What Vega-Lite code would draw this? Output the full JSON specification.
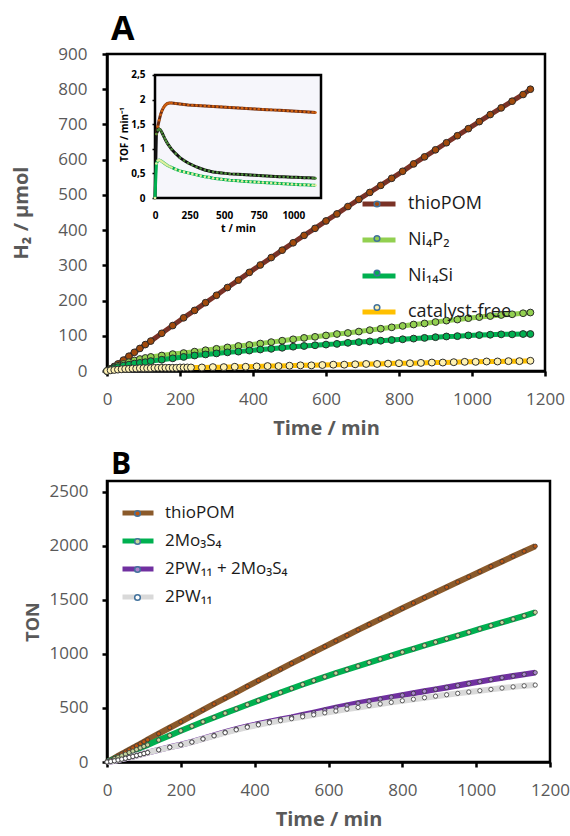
{
  "$schema": "https://vega.github.io/schema/vega-lite/v6.json",
  "background": "white",
  "padding": {"left": 10, "top": 11, "right": 0, "bottom": 0},
  "config": {
    "font": "Open Sans",
    "view": {"stroke": "black", "strokeWidth": 2.5},
    "axis": {"grid": false, "labelFlush": false, "labelOverlap": false, "domainColor": "black", "domainWidth": 2.5, "tickColor": "black", "tickWidth": 2.5, "tickSize": 5, "labelFont": "Open Sans", "labelFontSize": 17, "labelColor": "#595959", "labelPadding": 15, "titleFont": "Open Sans", "titleFontSize": 20, "titleFontWeight": "bold", "titleColor": "#595959"},
    "axisX": {"labelPadding": 15, "titlePadding": 11},
    "legend": {"labelFont": "Open Sans", "labelColor": "#1a1a1a", "padding": 0},
    "title": {"font": "Open Sans"}
  },
  "resolve": {"scale": {"color": "independent", "fill": "independent"}, "legend": {"color": "independent", "fill": "independent"}},
  "datasets": {
    "a": [
      {"s":"thioPOM","t":0,"v":0},{"s":"thioPOM","t":10,"v":6},{"s":"thioPOM","t":20,"v":13},{"s":"thioPOM","t":30,"v":20},{"s":"thioPOM","t":45,"v":31},{"s":"thioPOM","t":60,"v":42},{"s":"thioPOM","t":75,"v":53},{"s":"thioPOM","t":90,"v":64},{"s":"thioPOM","t":105,"v":75},{"s":"thioPOM","t":120,"v":85},{"s":"thioPOM","t":150,"v":107},{"s":"thioPOM","t":180,"v":129},{"s":"thioPOM","t":210,"v":151},{"s":"thioPOM","t":240,"v":172},{"s":"thioPOM","t":270,"v":194},{"s":"thioPOM","t":300,"v":215},{"s":"thioPOM","t":330,"v":237},{"s":"thioPOM","t":360,"v":258},{"s":"thioPOM","t":390,"v":280},{"s":"thioPOM","t":420,"v":301},{"s":"thioPOM","t":450,"v":322},{"s":"thioPOM","t":480,"v":343},{"s":"thioPOM","t":510,"v":364},{"s":"thioPOM","t":540,"v":385},{"s":"thioPOM","t":570,"v":405},{"s":"thioPOM","t":600,"v":426},{"s":"thioPOM","t":630,"v":446},{"s":"thioPOM","t":660,"v":467},{"s":"thioPOM","t":690,"v":487},{"s":"thioPOM","t":720,"v":507},{"s":"thioPOM","t":750,"v":527},{"s":"thioPOM","t":780,"v":547},{"s":"thioPOM","t":810,"v":567},{"s":"thioPOM","t":840,"v":588},{"s":"thioPOM","t":870,"v":608},{"s":"thioPOM","t":900,"v":628},{"s":"thioPOM","t":930,"v":648},{"s":"thioPOM","t":960,"v":668},{"s":"thioPOM","t":990,"v":688},{"s":"thioPOM","t":1020,"v":708},{"s":"thioPOM","t":1050,"v":728},{"s":"thioPOM","t":1080,"v":747},{"s":"thioPOM","t":1110,"v":766},{"s":"thioPOM","t":1140,"v":785},{"s":"thioPOM","t":1160,"v":800},
      {"s":"Ni₄P₂","t":0,"v":0},{"s":"Ni₄P₂","t":10,"v":6},{"s":"Ni₄P₂","t":20,"v":11},{"s":"Ni₄P₂","t":30,"v":15},{"s":"Ni₄P₂","t":45,"v":20},{"s":"Ni₄P₂","t":60,"v":25},{"s":"Ni₄P₂","t":75,"v":30},{"s":"Ni₄P₂","t":90,"v":34},{"s":"Ni₄P₂","t":105,"v":37},{"s":"Ni₄P₂","t":120,"v":40},{"s":"Ni₄P₂","t":150,"v":44},{"s":"Ni₄P₂","t":180,"v":48},{"s":"Ni₄P₂","t":210,"v":51},{"s":"Ni₄P₂","t":240,"v":55},{"s":"Ni₄P₂","t":270,"v":59},{"s":"Ni₄P₂","t":300,"v":63},{"s":"Ni₄P₂","t":330,"v":67},{"s":"Ni₄P₂","t":360,"v":71},{"s":"Ni₄P₂","t":390,"v":74},{"s":"Ni₄P₂","t":420,"v":78},{"s":"Ni₄P₂","t":450,"v":82},{"s":"Ni₄P₂","t":480,"v":86},{"s":"Ni₄P₂","t":510,"v":90},{"s":"Ni₄P₂","t":540,"v":94},{"s":"Ni₄P₂","t":570,"v":97},{"s":"Ni₄P₂","t":600,"v":101},{"s":"Ni₄P₂","t":630,"v":105},{"s":"Ni₄P₂","t":660,"v":108},{"s":"Ni₄P₂","t":690,"v":112},{"s":"Ni₄P₂","t":720,"v":116},{"s":"Ni₄P₂","t":750,"v":120},{"s":"Ni₄P₂","t":780,"v":124},{"s":"Ni₄P₂","t":810,"v":128},{"s":"Ni₄P₂","t":840,"v":132},{"s":"Ni₄P₂","t":870,"v":135},{"s":"Ni₄P₂","t":900,"v":139},{"s":"Ni₄P₂","t":930,"v":143},{"s":"Ni₄P₂","t":960,"v":146},{"s":"Ni₄P₂","t":990,"v":150},{"s":"Ni₄P₂","t":1020,"v":153},{"s":"Ni₄P₂","t":1050,"v":156},{"s":"Ni₄P₂","t":1080,"v":159},{"s":"Ni₄P₂","t":1110,"v":161},{"s":"Ni₄P₂","t":1140,"v":164},{"s":"Ni₄P₂","t":1160,"v":166},
      {"s":"Ni₁₄Si","t":0,"v":0},{"s":"Ni₁₄Si","t":10,"v":4},{"s":"Ni₁₄Si","t":20,"v":8},{"s":"Ni₁₄Si","t":30,"v":11},{"s":"Ni₁₄Si","t":45,"v":15},{"s":"Ni₁₄Si","t":60,"v":18},{"s":"Ni₁₄Si","t":75,"v":21},{"s":"Ni₁₄Si","t":90,"v":23},{"s":"Ni₁₄Si","t":105,"v":25},{"s":"Ni₁₄Si","t":120,"v":28},{"s":"Ni₁₄Si","t":150,"v":32},{"s":"Ni₁₄Si","t":180,"v":36},{"s":"Ni₁₄Si","t":210,"v":40},{"s":"Ni₁₄Si","t":240,"v":44},{"s":"Ni₁₄Si","t":270,"v":47},{"s":"Ni₁₄Si","t":300,"v":50},{"s":"Ni₁₄Si","t":330,"v":53},{"s":"Ni₁₄Si","t":360,"v":55},{"s":"Ni₁₄Si","t":390,"v":58},{"s":"Ni₁₄Si","t":420,"v":61},{"s":"Ni₁₄Si","t":450,"v":63},{"s":"Ni₁₄Si","t":480,"v":66},{"s":"Ni₁₄Si","t":510,"v":69},{"s":"Ni₁₄Si","t":540,"v":71},{"s":"Ni₁₄Si","t":570,"v":73},{"s":"Ni₁₄Si","t":600,"v":75},{"s":"Ni₁₄Si","t":630,"v":77},{"s":"Ni₁₄Si","t":660,"v":80},{"s":"Ni₁₄Si","t":690,"v":82},{"s":"Ni₁₄Si","t":720,"v":84},{"s":"Ni₁₄Si","t":750,"v":86},{"s":"Ni₁₄Si","t":780,"v":88},{"s":"Ni₁₄Si","t":810,"v":90},{"s":"Ni₁₄Si","t":840,"v":92},{"s":"Ni₁₄Si","t":870,"v":94},{"s":"Ni₁₄Si","t":900,"v":96},{"s":"Ni₁₄Si","t":930,"v":98},{"s":"Ni₁₄Si","t":960,"v":99},{"s":"Ni₁₄Si","t":990,"v":101},{"s":"Ni₁₄Si","t":1020,"v":102},{"s":"Ni₁₄Si","t":1050,"v":103},{"s":"Ni₁₄Si","t":1080,"v":104},{"s":"Ni₁₄Si","t":1110,"v":104},{"s":"Ni₁₄Si","t":1140,"v":105},{"s":"Ni₁₄Si","t":1160,"v":105},
      {"s":"catalyst-free","t":0,"v":0},{"s":"catalyst-free","t":10,"v":2},{"s":"catalyst-free","t":20,"v":3},{"s":"catalyst-free","t":30,"v":4},{"s":"catalyst-free","t":40,"v":5},{"s":"catalyst-free","t":50,"v":6},{"s":"catalyst-free","t":60,"v":6},{"s":"catalyst-free","t":70,"v":7},{"s":"catalyst-free","t":80,"v":7},{"s":"catalyst-free","t":90,"v":8},{"s":"catalyst-free","t":100,"v":8},{"s":"catalyst-free","t":110,"v":8},{"s":"catalyst-free","t":120,"v":8},{"s":"catalyst-free","t":130,"v":9},{"s":"catalyst-free","t":140,"v":9},{"s":"catalyst-free","t":150,"v":9},{"s":"catalyst-free","t":160,"v":9},{"s":"catalyst-free","t":170,"v":9},{"s":"catalyst-free","t":180,"v":9},{"s":"catalyst-free","t":190,"v":9},{"s":"catalyst-free","t":200,"v":10},{"s":"catalyst-free","t":210,"v":10},{"s":"catalyst-free","t":220,"v":10},{"s":"catalyst-free","t":230,"v":10},{"s":"catalyst-free","t":260,"v":10},{"s":"catalyst-free","t":290,"v":11},{"s":"catalyst-free","t":320,"v":11},{"s":"catalyst-free","t":350,"v":12},{"s":"catalyst-free","t":380,"v":12},{"s":"catalyst-free","t":410,"v":13},{"s":"catalyst-free","t":440,"v":14},{"s":"catalyst-free","t":470,"v":14},{"s":"catalyst-free","t":500,"v":15},{"s":"catalyst-free","t":530,"v":16},{"s":"catalyst-free","t":560,"v":16},{"s":"catalyst-free","t":590,"v":17},{"s":"catalyst-free","t":620,"v":18},{"s":"catalyst-free","t":650,"v":18},{"s":"catalyst-free","t":680,"v":19},{"s":"catalyst-free","t":710,"v":20},{"s":"catalyst-free","t":740,"v":20},{"s":"catalyst-free","t":770,"v":21},{"s":"catalyst-free","t":800,"v":22},{"s":"catalyst-free","t":830,"v":22},{"s":"catalyst-free","t":860,"v":23},{"s":"catalyst-free","t":890,"v":24},{"s":"catalyst-free","t":920,"v":24},{"s":"catalyst-free","t":950,"v":25},{"s":"catalyst-free","t":980,"v":26},{"s":"catalyst-free","t":1010,"v":26},{"s":"catalyst-free","t":1040,"v":27},{"s":"catalyst-free","t":1070,"v":27},{"s":"catalyst-free","t":1100,"v":28},{"s":"catalyst-free","t":1130,"v":28},{"s":"catalyst-free","t":1160,"v":29}
    ],
    "ins": [
      {"s":"thioPOM","t":10,"v":1.3},{"s":"thioPOM","t":20,"v":1.45},{"s":"thioPOM","t":30,"v":1.58},{"s":"thioPOM","t":40,"v":1.69},{"s":"thioPOM","t":50,"v":1.77},{"s":"thioPOM","t":60,"v":1.83},{"s":"thioPOM","t":70,"v":1.87},{"s":"thioPOM","t":80,"v":1.9},{"s":"thioPOM","t":90,"v":1.92},{"s":"thioPOM","t":105,"v":1.93},{"s":"thioPOM","t":120,"v":1.93},{"s":"thioPOM","t":150,"v":1.92},{"s":"thioPOM","t":180,"v":1.91},{"s":"thioPOM","t":210,"v":1.9},{"s":"thioPOM","t":240,"v":1.89},{"s":"thioPOM","t":270,"v":1.885},{"s":"thioPOM","t":300,"v":1.88},{"s":"thioPOM","t":330,"v":1.875},{"s":"thioPOM","t":360,"v":1.87},{"s":"thioPOM","t":390,"v":1.865},{"s":"thioPOM","t":420,"v":1.86},{"s":"thioPOM","t":450,"v":1.855},{"s":"thioPOM","t":480,"v":1.85},{"s":"thioPOM","t":510,"v":1.845},{"s":"thioPOM","t":540,"v":1.84},{"s":"thioPOM","t":570,"v":1.835},{"s":"thioPOM","t":600,"v":1.83},{"s":"thioPOM","t":630,"v":1.825},{"s":"thioPOM","t":660,"v":1.82},{"s":"thioPOM","t":690,"v":1.815},{"s":"thioPOM","t":720,"v":1.81},{"s":"thioPOM","t":750,"v":1.805},{"s":"thioPOM","t":780,"v":1.8},{"s":"thioPOM","t":810,"v":1.795},{"s":"thioPOM","t":840,"v":1.79},{"s":"thioPOM","t":870,"v":1.785},{"s":"thioPOM","t":900,"v":1.78},{"s":"thioPOM","t":930,"v":1.775},{"s":"thioPOM","t":960,"v":1.77},{"s":"thioPOM","t":990,"v":1.765},{"s":"thioPOM","t":1020,"v":1.76},{"s":"thioPOM","t":1050,"v":1.755},{"s":"thioPOM","t":1080,"v":1.75},{"s":"thioPOM","t":1110,"v":1.745},{"s":"thioPOM","t":1140,"v":1.74},{"s":"thioPOM","t":1160,"v":1.735},
      {"s":"Ni₄P₂","t":0,"v":0},{"s":"Ni₄P₂","t":10,"v":1.3},{"s":"Ni₄P₂","t":20,"v":1.38},{"s":"Ni₄P₂","t":30,"v":1.4},{"s":"Ni₄P₂","t":40,"v":1.38},{"s":"Ni₄P₂","t":50,"v":1.33},{"s":"Ni₄P₂","t":60,"v":1.27},{"s":"Ni₄P₂","t":70,"v":1.21},{"s":"Ni₄P₂","t":80,"v":1.16},{"s":"Ni₄P₂","t":90,"v":1.11},{"s":"Ni₄P₂","t":105,"v":1.05},{"s":"Ni₄P₂","t":120,"v":0.99},{"s":"Ni₄P₂","t":150,"v":0.9},{"s":"Ni₄P₂","t":180,"v":0.82},{"s":"Ni₄P₂","t":210,"v":0.76},{"s":"Ni₄P₂","t":240,"v":0.71},{"s":"Ni₄P₂","t":270,"v":0.67},{"s":"Ni₄P₂","t":300,"v":0.63},{"s":"Ni₄P₂","t":330,"v":0.6},{"s":"Ni₄P₂","t":360,"v":0.57},{"s":"Ni₄P₂","t":390,"v":0.55},{"s":"Ni₄P₂","t":420,"v":0.53},{"s":"Ni₄P₂","t":450,"v":0.52},{"s":"Ni₄P₂","t":480,"v":0.51},{"s":"Ni₄P₂","t":510,"v":0.5},{"s":"Ni₄P₂","t":540,"v":0.49},{"s":"Ni₄P₂","t":570,"v":0.485},{"s":"Ni₄P₂","t":600,"v":0.48},{"s":"Ni₄P₂","t":630,"v":0.475},{"s":"Ni₄P₂","t":660,"v":0.47},{"s":"Ni₄P₂","t":690,"v":0.465},{"s":"Ni₄P₂","t":720,"v":0.46},{"s":"Ni₄P₂","t":750,"v":0.455},{"s":"Ni₄P₂","t":780,"v":0.45},{"s":"Ni₄P₂","t":810,"v":0.445},{"s":"Ni₄P₂","t":840,"v":0.44},{"s":"Ni₄P₂","t":870,"v":0.435},{"s":"Ni₄P₂","t":900,"v":0.43},{"s":"Ni₄P₂","t":930,"v":0.43},{"s":"Ni₄P₂","t":960,"v":0.425},{"s":"Ni₄P₂","t":990,"v":0.42},{"s":"Ni₄P₂","t":1020,"v":0.42},{"s":"Ni₄P₂","t":1050,"v":0.415},{"s":"Ni₄P₂","t":1080,"v":0.41},{"s":"Ni₄P₂","t":1110,"v":0.41},{"s":"Ni₄P₂","t":1140,"v":0.405},{"s":"Ni₄P₂","t":1160,"v":0.4},
      {"s":"Ni₁₄Si","t":0,"v":0},{"s":"Ni₁₄Si","t":10,"v":0.7},{"s":"Ni₁₄Si","t":20,"v":0.76},{"s":"Ni₁₄Si","t":30,"v":0.77},{"s":"Ni₁₄Si","t":40,"v":0.76},{"s":"Ni₁₄Si","t":50,"v":0.74},{"s":"Ni₁₄Si","t":60,"v":0.72},{"s":"Ni₁₄Si","t":70,"v":0.7},{"s":"Ni₁₄Si","t":80,"v":0.68},{"s":"Ni₁₄Si","t":90,"v":0.66},{"s":"Ni₁₄Si","t":105,"v":0.64},{"s":"Ni₁₄Si","t":120,"v":0.62},{"s":"Ni₁₄Si","t":150,"v":0.58},{"s":"Ni₁₄Si","t":180,"v":0.55},{"s":"Ni₁₄Si","t":210,"v":0.53},{"s":"Ni₁₄Si","t":240,"v":0.51},{"s":"Ni₁₄Si","t":270,"v":0.49},{"s":"Ni₁₄Si","t":300,"v":0.47},{"s":"Ni₁₄Si","t":330,"v":0.45},{"s":"Ni₁₄Si","t":360,"v":0.43},{"s":"Ni₁₄Si","t":390,"v":0.42},{"s":"Ni₁₄Si","t":420,"v":0.4},{"s":"Ni₁₄Si","t":450,"v":0.39},{"s":"Ni₁₄Si","t":480,"v":0.38},{"s":"Ni₁₄Si","t":510,"v":0.37},{"s":"Ni₁₄Si","t":540,"v":0.36},{"s":"Ni₁₄Si","t":570,"v":0.355},{"s":"Ni₁₄Si","t":600,"v":0.35},{"s":"Ni₁₄Si","t":630,"v":0.34},{"s":"Ni₁₄Si","t":660,"v":0.335},{"s":"Ni₁₄Si","t":690,"v":0.33},{"s":"Ni₁₄Si","t":720,"v":0.325},{"s":"Ni₁₄Si","t":750,"v":0.32},{"s":"Ni₁₄Si","t":780,"v":0.315},{"s":"Ni₁₄Si","t":810,"v":0.31},{"s":"Ni₁₄Si","t":840,"v":0.305},{"s":"Ni₁₄Si","t":870,"v":0.3},{"s":"Ni₁₄Si","t":900,"v":0.295},{"s":"Ni₁₄Si","t":930,"v":0.29},{"s":"Ni₁₄Si","t":960,"v":0.285},{"s":"Ni₁₄Si","t":990,"v":0.28},{"s":"Ni₁₄Si","t":1020,"v":0.275},{"s":"Ni₁₄Si","t":1050,"v":0.27},{"s":"Ni₁₄Si","t":1080,"v":0.27},{"s":"Ni₁₄Si","t":1110,"v":0.265},{"s":"Ni₁₄Si","t":1140,"v":0.26},{"s":"Ni₁₄Si","t":1160,"v":0.26}
    ],
    "b": [
      {"s":"thioPOM","t":0,"v":0},{"s":"thioPOM","t":10,"v":18},{"s":"thioPOM","t":20,"v":37},{"s":"thioPOM","t":30,"v":56},{"s":"thioPOM","t":40,"v":75},{"s":"thioPOM","t":50,"v":93},{"s":"thioPOM","t":60,"v":112},{"s":"thioPOM","t":70,"v":131},{"s":"thioPOM","t":80,"v":150},{"s":"thioPOM","t":90,"v":168},{"s":"thioPOM","t":100,"v":187},{"s":"thioPOM","t":110,"v":206},{"s":"thioPOM","t":140,"v":262},{"s":"thioPOM","t":170,"v":317},{"s":"thioPOM","t":200,"v":372},{"s":"thioPOM","t":230,"v":427},{"s":"thioPOM","t":260,"v":482},{"s":"thioPOM","t":290,"v":537},{"s":"thioPOM","t":320,"v":591},{"s":"thioPOM","t":350,"v":645},{"s":"thioPOM","t":380,"v":699},{"s":"thioPOM","t":410,"v":753},{"s":"thioPOM","t":440,"v":806},{"s":"thioPOM","t":470,"v":859},{"s":"thioPOM","t":500,"v":912},{"s":"thioPOM","t":530,"v":964},{"s":"thioPOM","t":560,"v":1016},{"s":"thioPOM","t":590,"v":1068},{"s":"thioPOM","t":620,"v":1120},{"s":"thioPOM","t":650,"v":1171},{"s":"thioPOM","t":680,"v":1222},{"s":"thioPOM","t":710,"v":1272},{"s":"thioPOM","t":740,"v":1322},{"s":"thioPOM","t":770,"v":1372},{"s":"thioPOM","t":800,"v":1422},{"s":"thioPOM","t":830,"v":1471},{"s":"thioPOM","t":860,"v":1520},{"s":"thioPOM","t":890,"v":1569},{"s":"thioPOM","t":920,"v":1617},{"s":"thioPOM","t":950,"v":1665},{"s":"thioPOM","t":980,"v":1713},{"s":"thioPOM","t":1010,"v":1761},{"s":"thioPOM","t":1040,"v":1809},{"s":"thioPOM","t":1070,"v":1856},{"s":"thioPOM","t":1100,"v":1903},{"s":"thioPOM","t":1130,"v":1950},{"s":"thioPOM","t":1160,"v":1997},
      {"s":"2Mo₃S₄","t":0,"v":0},{"s":"2Mo₃S₄","t":10,"v":15},{"s":"2Mo₃S₄","t":20,"v":30},{"s":"2Mo₃S₄","t":30,"v":44},{"s":"2Mo₃S₄","t":40,"v":58},{"s":"2Mo₃S₄","t":50,"v":73},{"s":"2Mo₃S₄","t":60,"v":87},{"s":"2Mo₃S₄","t":70,"v":101},{"s":"2Mo₃S₄","t":80,"v":116},{"s":"2Mo₃S₄","t":90,"v":130},{"s":"2Mo₃S₄","t":100,"v":144},{"s":"2Mo₃S₄","t":110,"v":158},{"s":"2Mo₃S₄","t":140,"v":203},{"s":"2Mo₃S₄","t":170,"v":246},{"s":"2Mo₃S₄","t":200,"v":289},{"s":"2Mo₃S₄","t":230,"v":331},{"s":"2Mo₃S₄","t":260,"v":372},{"s":"2Mo₃S₄","t":290,"v":412},{"s":"2Mo₃S₄","t":320,"v":452},{"s":"2Mo₃S₄","t":350,"v":491},{"s":"2Mo₃S₄","t":380,"v":530},{"s":"2Mo₃S₄","t":410,"v":568},{"s":"2Mo₃S₄","t":440,"v":606},{"s":"2Mo₃S₄","t":470,"v":643},{"s":"2Mo₃S₄","t":500,"v":680},{"s":"2Mo₃S₄","t":530,"v":717},{"s":"2Mo₃S₄","t":560,"v":753},{"s":"2Mo₃S₄","t":590,"v":788},{"s":"2Mo₃S₄","t":620,"v":822},{"s":"2Mo₃S₄","t":650,"v":855},{"s":"2Mo₃S₄","t":680,"v":888},{"s":"2Mo₃S₄","t":710,"v":920},{"s":"2Mo₃S₄","t":740,"v":952},{"s":"2Mo₃S₄","t":770,"v":984},{"s":"2Mo₃S₄","t":800,"v":1016},{"s":"2Mo₃S₄","t":830,"v":1047},{"s":"2Mo₃S₄","t":860,"v":1078},{"s":"2Mo₃S₄","t":890,"v":1109},{"s":"2Mo₃S₄","t":920,"v":1140},{"s":"2Mo₃S₄","t":950,"v":1170},{"s":"2Mo₃S₄","t":980,"v":1200},{"s":"2Mo₃S₄","t":1010,"v":1231},{"s":"2Mo₃S₄","t":1040,"v":1261},{"s":"2Mo₃S₄","t":1070,"v":1291},{"s":"2Mo₃S₄","t":1100,"v":1322},{"s":"2Mo₃S₄","t":1130,"v":1353},{"s":"2Mo₃S₄","t":1160,"v":1385},
      {"s":"2PW₁₁ + 2Mo₃S₄","t":0,"v":0},{"s":"2PW₁₁ + 2Mo₃S₄","t":10,"v":5},{"s":"2PW₁₁ + 2Mo₃S₄","t":20,"v":11},{"s":"2PW₁₁ + 2Mo₃S₄","t":30,"v":18},{"s":"2PW₁₁ + 2Mo₃S₄","t":40,"v":26},{"s":"2PW₁₁ + 2Mo₃S₄","t":50,"v":34},{"s":"2PW₁₁ + 2Mo₃S₄","t":60,"v":42},{"s":"2PW₁₁ + 2Mo₃S₄","t":70,"v":51},{"s":"2PW₁₁ + 2Mo₃S₄","t":80,"v":60},{"s":"2PW₁₁ + 2Mo₃S₄","t":90,"v":69},{"s":"2PW₁₁ + 2Mo₃S₄","t":100,"v":78},{"s":"2PW₁₁ + 2Mo₃S₄","t":110,"v":87},{"s":"2PW₁₁ + 2Mo₃S₄","t":140,"v":113},{"s":"2PW₁₁ + 2Mo₃S₄","t":170,"v":138},{"s":"2PW₁₁ + 2Mo₃S₄","t":200,"v":160},{"s":"2PW₁₁ + 2Mo₃S₄","t":230,"v":186},{"s":"2PW₁₁ + 2Mo₃S₄","t":260,"v":216},{"s":"2PW₁₁ + 2Mo₃S₄","t":290,"v":246},{"s":"2PW₁₁ + 2Mo₃S₄","t":320,"v":276},{"s":"2PW₁₁ + 2Mo₃S₄","t":350,"v":304},{"s":"2PW₁₁ + 2Mo₃S₄","t":380,"v":329},{"s":"2PW₁₁ + 2Mo₃S₄","t":410,"v":352},{"s":"2PW₁₁ + 2Mo₃S₄","t":440,"v":374},{"s":"2PW₁₁ + 2Mo₃S₄","t":470,"v":394},{"s":"2PW₁₁ + 2Mo₃S₄","t":500,"v":413},{"s":"2PW₁₁ + 2Mo₃S₄","t":530,"v":435},{"s":"2PW₁₁ + 2Mo₃S₄","t":560,"v":457},{"s":"2PW₁₁ + 2Mo₃S₄","t":590,"v":480},{"s":"2PW₁₁ + 2Mo₃S₄","t":620,"v":503},{"s":"2PW₁₁ + 2Mo₃S₄","t":650,"v":524},{"s":"2PW₁₁ + 2Mo₃S₄","t":680,"v":544},{"s":"2PW₁₁ + 2Mo₃S₄","t":710,"v":563},{"s":"2PW₁₁ + 2Mo₃S₄","t":740,"v":582},{"s":"2PW₁₁ + 2Mo₃S₄","t":770,"v":600},{"s":"2PW₁₁ + 2Mo₃S₄","t":800,"v":618},{"s":"2PW₁₁ + 2Mo₃S₄","t":830,"v":636},{"s":"2PW₁₁ + 2Mo₃S₄","t":860,"v":654},{"s":"2PW₁₁ + 2Mo₃S₄","t":890,"v":672},{"s":"2PW₁₁ + 2Mo₃S₄","t":920,"v":690},{"s":"2PW₁₁ + 2Mo₃S₄","t":950,"v":708},{"s":"2PW₁₁ + 2Mo₃S₄","t":980,"v":726},{"s":"2PW₁₁ + 2Mo₃S₄","t":1010,"v":744},{"s":"2PW₁₁ + 2Mo₃S₄","t":1040,"v":762},{"s":"2PW₁₁ + 2Mo₃S₄","t":1070,"v":779},{"s":"2PW₁₁ + 2Mo₃S₄","t":1100,"v":795},{"s":"2PW₁₁ + 2Mo₃S₄","t":1130,"v":811},{"s":"2PW₁₁ + 2Mo₃S₄","t":1160,"v":827},
      {"s":"2PW₁₁","t":0,"v":0},{"s":"2PW₁₁","t":10,"v":5},{"s":"2PW₁₁","t":20,"v":11},{"s":"2PW₁₁","t":30,"v":18},{"s":"2PW₁₁","t":40,"v":26},{"s":"2PW₁₁","t":50,"v":34},{"s":"2PW₁₁","t":60,"v":42},{"s":"2PW₁₁","t":70,"v":51},{"s":"2PW₁₁","t":80,"v":60},{"s":"2PW₁₁","t":90,"v":69},{"s":"2PW₁₁","t":100,"v":78},{"s":"2PW₁₁","t":110,"v":87},{"s":"2PW₁₁","t":140,"v":112},{"s":"2PW₁₁","t":170,"v":136},{"s":"2PW₁₁","t":200,"v":158},{"s":"2PW₁₁","t":230,"v":184},{"s":"2PW₁₁","t":260,"v":213},{"s":"2PW₁₁","t":290,"v":242},{"s":"2PW₁₁","t":320,"v":271},{"s":"2PW₁₁","t":350,"v":298},{"s":"2PW₁₁","t":380,"v":322},{"s":"2PW₁₁","t":410,"v":344},{"s":"2PW₁₁","t":440,"v":364},{"s":"2PW₁₁","t":470,"v":383},{"s":"2PW₁₁","t":500,"v":401},{"s":"2PW₁₁","t":530,"v":419},{"s":"2PW₁₁","t":560,"v":437},{"s":"2PW₁₁","t":590,"v":455},{"s":"2PW₁₁","t":620,"v":472},{"s":"2PW₁₁","t":650,"v":489},{"s":"2PW₁₁","t":680,"v":505},{"s":"2PW₁₁","t":710,"v":521},{"s":"2PW₁₁","t":740,"v":537},{"s":"2PW₁₁","t":770,"v":552},{"s":"2PW₁₁","t":800,"v":567},{"s":"2PW₁₁","t":830,"v":581},{"s":"2PW₁₁","t":860,"v":595},{"s":"2PW₁₁","t":890,"v":609},{"s":"2PW₁₁","t":920,"v":622},{"s":"2PW₁₁","t":950,"v":635},{"s":"2PW₁₁","t":980,"v":648},{"s":"2PW₁₁","t":1010,"v":660},{"s":"2PW₁₁","t":1040,"v":672},{"s":"2PW₁₁","t":1070,"v":684},{"s":"2PW₁₁","t":1100,"v":695},{"s":"2PW₁₁","t":1130,"v":705},{"s":"2PW₁₁","t":1160,"v":712}
    ]
  },
  "spacing": 8,
  "vconcat": [
    {
      "width": 438,
      "height": 317,
      "title": {"text": "A", "anchor": "start", "frame": "group", "dx": 4, "fontSize": 34, "fontWeight": "bold", "color": "black", "offset": -2},
      "layer": [
        {
          "data": {"name": "a"},
          "layer": [
            {
              "mark": {"type": "line", "strokeWidth": 5},
              "encoding": {
                "x": {"field": "t", "type": "quantitative", "scale": {"domain": [0, 1200]}, "axis": {"title": "Time / min", "values": [0, 200, 400, 600, 800, 1000, 1200], "format": "d", "labelOverlap": false}},
                "y": {"field": "v", "type": "quantitative", "scale": {"domain": [0, 900]}, "axis": {"title": "H₂ / µmol", "values": [0, 100, 200, 300, 400, 500, 600, 700, 800, 900], "tickCount": 10, "format": "d", "labelOverlap": false, "titlePadding": 26}},
                "color": {"field": "s", "type": "nominal", "scale": {"domain": ["thioPOM", "Ni₄P₂", "Ni₁₄Si", "catalyst-free"], "range": ["#7a3226", "#92d050", "#00b050", "#ffc000"]},
                  "legend": {"orient": "none", "legendX": 253, "legendY": 131, "title": null, "symbolType": "stroke", "symbolSize": 1089, "symbolStrokeWidth": 5, "labelFontSize": 18, "rowPadding": 7, "labelOffset": 10}}
              }
            },
            {
              "mark": {"type": "point", "filled": true, "shape": "circle", "stroke": "#2b2b2b", "strokeWidth": 1, "opacity": 1},
              "encoding": {
                "x": {"field": "t", "type": "quantitative", "axis": {"title": "Time / min", "values": [0, 200, 400, 600, 800, 1000, 1200], "format": "d", "labelOverlap": false}},
                "y": {"field": "v", "type": "quantitative", "axis": {"title": "H₂ / µmol", "values": [0, 100, 200, 300, 400, 500, 600, 700, 800, 900], "tickCount": 10, "format": "d", "labelOverlap": false, "titlePadding": 26}},
                "fill": {"field": "s", "type": "nominal", "sort": ["thioPOM", "Ni₄P₂", "Ni₁₄Si", "catalyst-free"], "scale": {"range": ["#a24a0c", "#92d050", "#00b050", "#fff2b3"]},
                  "legend": {"orient": "none", "legendX": 261, "legendY": 141, "title": null, "symbolType": "circle", "symbolSize": 32, "symbolStrokeColor": "#41719c", "symbolStrokeWidth": 1.5, "labelExpr": "''", "labelFontSize": 18, "rowPadding": 16.5, "labelOffset": 0}},
                "size": {"field": "s", "type": "nominal", "scale": {"domain": ["thioPOM", "Ni₄P₂", "Ni₁₄Si", "catalyst-free"], "range": [45, 48, 48, 20]}, "legend": null}
              }
            }
          ]
        },
        {
          "layer": [
            {
              "data": {"values": [{}]},
              "mark": {"type": "rect", "fill": "#f6f6fb", "stroke": "black", "strokeWidth": 2.5},
              "encoding": {
                "x": {"datum": 0, "type": "quantitative", "scale": {"domain": [0, 1200], "range": [48, 214]},
                  "axis": {"orient": "bottom", "offset": -172.5, "values": [0, 250, 500, 750, 1000], "format": "d", "title": "t / min", "domain": false, "ticks": false, "labelFontSize": 10, "labelFontWeight": "bold", "labelColor": "black", "labelPadding": 12, "titleFontSize": 10.5, "titleColor": "black", "titlePadding": 3}},
                "x2": {"datum": 1200},
                "y": {"datum": 0, "type": "quantitative", "scale": {"domain": [0, 2.5], "range": [144, 16]},
                  "axis": {"orient": "left", "offset": -48, "values": [0, 0.5, 1, 1.5, 2, 2.5], "labelExpr": "replace(format(datum.value, '~g'), '.', ',')", "title": "TOF / min⁻¹", "domain": false, "tickSize": 3, "tickWidth": 1.5, "labelFontSize": 10, "labelFontWeight": "bold", "labelColor": "black", "labelPadding": 7, "titleFontSize": 10, "titleColor": "black", "titlePadding": 1}},
                "y2": {"datum": 2.5}
              }
            },
            {
              "data": {"name": "ins"},
              "mark": {"type": "line", "strokeWidth": 3},
              "encoding": {
                "x": {"field": "t", "type": "quantitative"},
                "y": {"field": "v", "type": "quantitative"},
                "color": {"field": "s", "type": "nominal", "scale": {"domain": ["thioPOM", "Ni₄P₂", "Ni₁₄Si"], "range": ["#6b2d14", "#111111", "#00b050"]}, "legend": null}
              }
            },
            {
              "data": {"name": "ins"},
              "mark": {"type": "point", "filled": true, "shape": "circle", "size": 7, "opacity": 1},
              "encoding": {
                "x": {"field": "t", "type": "quantitative"},
                "y": {"field": "v", "type": "quantitative"},
                "fill": {"field": "s", "type": "nominal", "scale": {"domain": ["thioPOM", "Ni₄P₂", "Ni₁₄Si"], "range": ["#d0600f", "#4c8a3a", "#e2eea0"]}, "legend": null}
              }
            }
          ]
        }
      ],
      "resolve": {"scale": {"x": "independent", "y": "independent", "color": "independent", "fill": "independent"}, "axis": {"x": "independent", "y": "independent"}}
    },
    {
      "width": 443,
      "height": 281,
      "title": {"text": "B", "anchor": "start", "frame": "group", "dx": 4, "fontSize": 30, "fontWeight": "bold", "color": "black", "offset": 1.5},
      "data": {"name": "b"},
      "layer": [
        {
          "mark": {"type": "line", "strokeWidth": 6},
          "encoding": {
            "x": {"field": "t", "type": "quantitative", "scale": {"domain": [0, 1200]}, "axis": {"title": "Time / min", "values": [0, 200, 400, 600, 800, 1000, 1200], "format": "d", "labelOverlap": false}},
            "y": {"field": "v", "type": "quantitative", "scale": {"domain": [0, 2500]}, "axis": {"title": "TON", "values": [0, 500, 1000, 1500, 2000, 2500], "format": "d", "labelOverlap": false, "titlePadding": 7, "titleFontSize": 18, "labelPadding": 14}},
            "color": {"field": "s", "type": "nominal", "scale": {"domain": ["thioPOM", "2Mo₃S₄", "2PW₁₁ + 2Mo₃S₄", "2PW₁₁"], "range": ["#8b5a2b", "#00b050", "#7030a0", "#d9d9d9"]},
              "legend": {"orient": "none", "legendX": 13, "legendY": 14, "title": null, "symbolType": "stroke", "symbolSize": 961, "symbolStrokeWidth": 5, "labelFontSize": 17, "rowPadding": 0, "labelOffset": 9}}
          }
        },
        {
          "mark": {"type": "point", "filled": true, "shape": "circle", "stroke": "#3a3a3a", "strokeWidth": 0.8, "opacity": 1, "size": 18},
          "encoding": {
            "x": {"field": "t", "type": "quantitative", "axis": {"title": "Time / min", "values": [0, 200, 400, 600, 800, 1000, 1200], "format": "d", "labelOverlap": false}},
            "y": {"field": "v", "type": "quantitative", "axis": {"title": "TON", "values": [0, 500, 1000, 1500, 2000, 2500], "format": "d", "labelOverlap": false, "titlePadding": 7, "titleFontSize": 18, "labelPadding": 14}},
            "fill": {"field": "s", "type": "nominal", "sort": ["thioPOM", "2Mo₃S₄", "2PW₁₁ + 2Mo₃S₄", "2PW₁₁"], "scale": {"range": ["#c0560f", "#c4d79b", "#a884cc", "#ffffff"]},
              "legend": {"orient": "none", "legendX": 22, "legendY": 24, "title": null, "symbolType": "circle", "symbolSize": 32, "symbolStrokeColor": "#41719c", "symbolStrokeWidth": 1.5, "labelExpr": "''", "labelFontSize": 17, "rowPadding": 10, "labelOffset": 0}}
          }
        }
      ]
    }
  ]
}
